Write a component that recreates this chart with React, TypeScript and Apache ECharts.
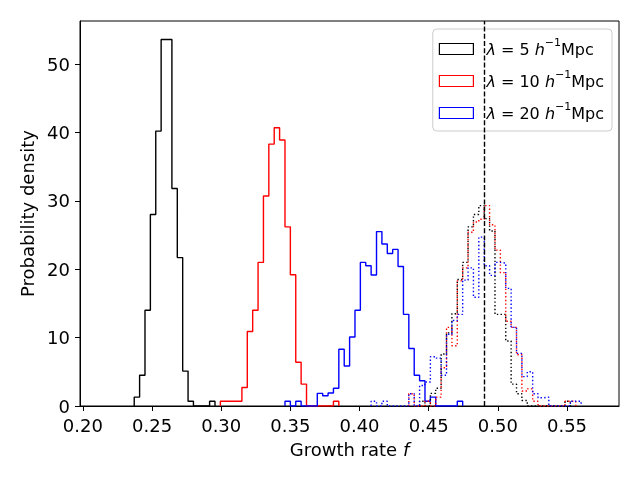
import { useRef, useEffect } from "react";
import * as echarts from "echarts";

// common histogram bin grid (all histograms share the same edges)
const BIN_START = 0.2371;
const BIN_WIDTH = 0.003893;

// solid histograms: first bin index + densities
const blackFirstBin = 0;
const blackSolid = [1.3, 4.5, 14.0, 28.0, 40.2, 53.6, 53.6, 31.8, 21.7, 5.1, 0.7, 0, 0, 0, 0.7];

const redFirstBin = 16;
const redSolid = [0.7, 0.7, 0.7, 0.7, 2.7, 10.9, 14.0, 21.0, 30.7, 38.3, 40.7, 38.9, 26.2, 19.2, 6.4, 3.2, 0, 0, 0, 0, 0, 0.7];

const blueFirstBin = 28;
const blueSolid = [
  0.7, 0, 0.7, 0, 0, 0, 1.85, 1.5, 1.9, 2.6, 8.3, 5.85, 10.1, 14.0, 21.0, 20.5, 19.15, 25.5, 23.7, 22.3, 22.9, 20.4,
  13.4, 8.4, 4.5, 3.7, 0.7, 1.3, 0, 0, 0, 0, 0.7,
];

// dotted histograms
const blackDottedFirstBin = 53;
const blackDotted = [
  0.7, 0, 1.85, 2.6, 7.6, 10.7, 13.5, 18.5, 21.0, 26.2, 28.0, 29.3, 27.4, 25.6, 13.4, 13.4, 9.5, 3.2, 1.8, 0.8, 0, 0, 0,
  0, 0, 0, 0, 0.7,
];

const redDottedFirstBin = 51;
const redDotted = [
  1.8, 0, 0, 0.7, 0, 1.3, 5.6, 11.5, 8.8, 18.3, 20.2, 25.4, 26.9, 27.3, 29.3, 26.5, 22.8, 19.5, 12.4, 11.5, 7.5, 2.2,
  2.5, 0.7, 0, 0, 0, 0, 0, 0.7, 0.7,
];

const blueDottedFirstBin = 44;
const blueDotted = [
  0.7, 0, 0.7, 0, 0, 0, 0, 1.8, 0, 3.0, 3.5, 7.2, 7.0, 4.5, 10.5, 12.5, 13.4, 18.4, 20.2, 15.9, 24.7, 20.5, 19.1, 21.0,
  20.9, 17.2, 11.5, 7.7, 4.3, 5.0, 1.8, 1.2, 1.3, 0, 0, 0, 0, 0.7, 0.7,
];

const LAMBDAS = [5, 10, 20];
const COLORS = ["#000000", "#ff0000", "#0000ff"];
const TRUE_F = 0.49;

const X_MIN = 0.1979;
const X_MAX = 0.5876;
const Y_MAX = 56.3;
const X_TICKS = [0.2, 0.25, 0.3, 0.35, 0.4, 0.45, 0.5, 0.55];
const Y_TICKS = [0, 10, 20, 30, 40, 50];

const FONT = "DejaVu Sans";

function stepPoints(firstBin: number, heights: number[]) {
  const pts: number[][] = [];
  const e0 = BIN_START + firstBin * BIN_WIDTH;
  pts.push([e0, 0]);
  heights.forEach((h, i) => {
    const a = BIN_START + (firstBin + i) * BIN_WIDTH;
    pts.push([a, h], [a + BIN_WIDTH, h]);
  });
  pts.push([BIN_START + (firstBin + heights.length) * BIN_WIDTH, 0]);
  return pts;
}

const legendName = (l: number) => `λ = ${l} h-1Mpc`;

export default function App() {
  const chartRef = useRef<HTMLDivElement>(null);

  useEffect(() => {
    if (!chartRef.current) return;
    const chart = echarts.init(chartRef.current, undefined, { renderer: "svg" });

    const solid = [
      { first: blackFirstBin, h: blackSolid },
      { first: redFirstBin, h: redSolid },
      { first: blueFirstBin, h: blueSolid },
    ];
    const dotted = [
      { first: blackDottedFirstBin, h: blackDotted },
      { first: redDottedFirstBin, h: redDotted },
      { first: blueDottedFirstBin, h: blueDotted },
    ];

    const series: any[] = [];
    solid.forEach((s, i) => {
      series.push({
        type: "line",
        name: legendName(LAMBDAS[i]),
        data: stepPoints(s.first, s.h),
        showSymbol: false,
        symbol: "none",
        color: COLORS[i],
        lineStyle: { color: COLORS[i], width: 1.4 },
        z: 3,
      });
    });
    dotted.forEach((s, i) => {
      series.push({
        type: "line",
        name: "dotted" + i,
        data: stepPoints(s.first, s.h),
        showSymbol: false,
        symbol: "none",
        color: COLORS[i],
        lineStyle: { color: COLORS[i], width: 1.4, type: [1.4, 2.3] },
        z: 3,
      });
    });
    series.push({
      type: "line",
      name: "truth",
      data: [],
      markLine: {
        silent: true,
        symbol: ["none", "none"],
        label: { show: false },
        lineStyle: { color: "#000", width: 1.4, type: [5, 2.2] },
        data: [{ xAxis: TRUE_F }],
      },
      z: 4,
    });

    const axisCommon = {
      axisLine: { show: true, onZero: false, lineStyle: { color: "#000", width: 1 } },
      axisTick: { show: true, length: 5, lineStyle: { color: "#000", width: 1 } },
      splitLine: { show: false },
    };

    chart.setOption({
      animation: false,
      grid: { left: 80, right: 21, top: 21, bottom: 74, show: true, borderColor: "#000", borderWidth: 1 },
      xAxis: {
        type: "value",
        min: X_MIN,
        max: X_MAX,
        ...axisCommon,
        axisTick: { ...axisCommon.axisTick, customValues: X_TICKS },
        axisLabel: {
          customValues: X_TICKS,
          formatter: (v: number) => v.toFixed(2),
          color: "#000",
          fontSize: 18,
          fontFamily: FONT,
          margin: 10,
        },
        name: "Growth rate {it|f}",
        nameLocation: "middle",
        nameGap: 34,
        nameTextStyle: {
          color: "#000",
          fontSize: 18,
          fontFamily: FONT,
          rich: { it: { fontStyle: "italic", fontSize: 18, fontFamily: FONT, color: "#000" } },
        },
      },
      yAxis: {
        type: "value",
        min: 0,
        max: Y_MAX,
        ...axisCommon,
        axisTick: { ...axisCommon.axisTick, customValues: Y_TICKS },
        axisLabel: {
          customValues: Y_TICKS,
          color: "#000",
          fontSize: 18,
          fontFamily: FONT,
          margin: 10,
        },
        name: "Probability density",
        nameLocation: "middle",
        nameGap: 40,
        nameTextStyle: { color: "#000", fontSize: 18, fontFamily: FONT },
      },
      legend: {
        orient: "vertical",
        right: 28,
        top: 29,
        padding: [8, 8, 10, 6],
        itemGap: 12,
        itemWidth: 34,
        itemHeight: 11,
        backgroundColor: "rgba(255,255,255,0.8)",
        borderColor: "#cccccc",
        borderWidth: 1,
        borderRadius: 4,
        data: LAMBDAS.map((l, i) => ({
          name: legendName(l),
          icon: "rect",
          itemStyle: { color: "#ffffff", borderColor: COLORS[i], borderWidth: 1.2 },
        })),
        formatter: (name: string) => {
          const l = name.split(" ")[2];
          return `{it|λ}{n| = ${l} }{it|h}{sup|−1}{n|Mpc}`;
        },
        textStyle: {
          color: "#000",
          fontSize: 16,
          fontFamily: FONT,
          padding: [0, 0, 0, 8],
          rich: {
            n: { fontSize: 16, fontFamily: FONT, color: "#000", lineHeight: 24 },
            it: { fontSize: 16, fontFamily: FONT, color: "#000", fontStyle: "italic", lineHeight: 24 },
            sup: { fontSize: 11, fontFamily: FONT, color: "#000", verticalAlign: "top", lineHeight: 18 },
          },
        },
      },
      series,
    });

    return () => {
      chart.dispose();
    };
  }, []);

  return <div ref={chartRef} style={{ position: "fixed", left: 0, top: 0, width: 640, height: 480 }} />;
}
